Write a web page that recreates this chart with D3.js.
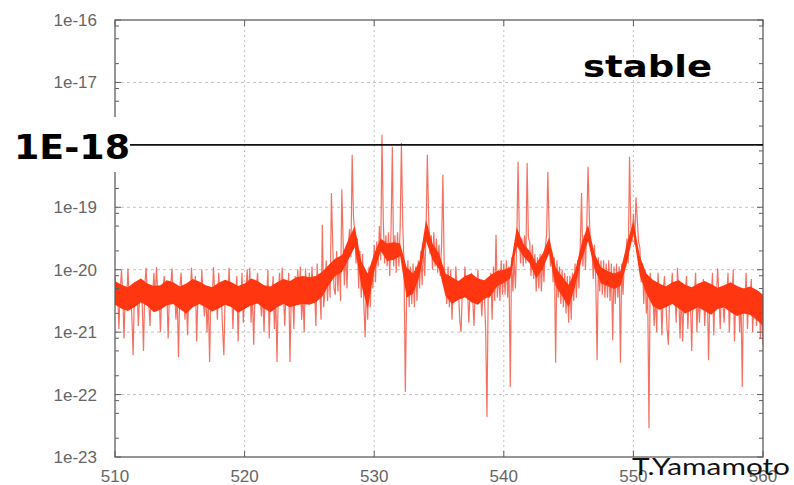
<!DOCTYPE html>
<html>
<head>
<meta charset="utf-8">
<script src="https://cdn.jsdelivr.net/npm/d3@7/dist/d3.min.js"></script>
<style>
  html, body { margin: 0; padding: 0; background: #fff; }
  svg { display: block; }
</style>
</head>
<body>
<svg id="chart" width="794" height="485"></svg>
<script>
// ---------- data ----------
const xStart = 510;
const xEnd = 560;
const xStep = 0.1;      // spectrum sampling
const bandStep = 0.5;   // sampling of the dense core band
// log10 of the spectrum value, one row per unit of x (x.0 ... x.9)
const logValues = [
  -20.1,-20.45,-20.3,-20.95,-20.35,-20.0,-20.4,-21.1,-20.3,-20.5,    // 510
  -19.98,-20.5,-20.35,-20.75,-21.37,-20.3,-20.45,-20.25,-20.9,-20.4, // 511
  -20.3,-20.55,-21.3,-20.25,-19.97,-20.4,-20.5,-20.9,-20.35,-20.45,  // 512
  -20.05,-20.5,-19.96,-20.4,-20.3,-21.0,-20.45,-20.3,-20.1,-20.55,   // 513
  -20.35,-21.1,-20.4,-20.25,-19.98,-20.5,-20.3,-20.8,-20.45,-21.4,   // 514
  -20.3,-20.05,-20.5,-20.35,-20.8,-20.4,-21.05,-20.3,-20.45,-19.97,  // 515
  -20.35,-20.5,-20.1,-21.15,-20.4,-20.3,-20.55,-20.0,-20.45,-20.75,  // 516
  -20.3,-21.0,-20.45,-21.48,-20.35,-20.5,-19.96,-20.4,-20.3,-20.8,   // 517
  -20.05,-20.5,-20.35,-20.95,-21.37,-20.4,-20.3,-20.55,-19.97,-20.45,// 518
  -20.35,-20.95,-20.3,-20.45,-20.1,-21.15,-20.4,-20.5,-20.05,-20.85, // 519
  -20.4,-20.3,-20.0,-20.5,-19.97,-20.85,-20.35,-21.2,-20.4,-20.3,    // 520
  -20.05,-20.5,-20.4,-20.75,-20.35,-21.0,-20.3,-20.45,-20.0,-21.1,   // 521
  -20.3,-20.45,-20.1,-20.95,-20.4,-21.48,-20.35,-20.05,-20.5,-19.97, // 522
  -20.4,-20.9,-20.3,-20.5,-20.05,-21.48,-20.4,-20.3,-20.95,-20.1,    // 523
  -20.35,-20.0,-20.5,-19.95,-20.8,-20.4,-21.0,-19.98,-20.45,-20.3,   // 524
  -20.05,-20.5,-19.95,-20.4,-20.3,-20.9,-19.9,-20.45,-20.3,-20.8,    // 525
  -19.28,-20.6,-20.35,-19.85,-20.5,-19.95,-20.45,-18.77,-19.6,-20.3, // 526
  -20.4,-19.7,-20.35,-19.8,-20.5,-18.71,-19.55,-20.25,-19.65,-20.3,  // 527
  -19.6,-19.35,-19.8,-18.16,-19.15,-19.4,-19.9,-19.5,-20.3,-19.7,    // 528
  -20.45,-19.75,-20.55,-21.08,-20.2,-20.8,-19.95,-20.6,-19.9,-20.3,  // 529
  -19.6,-20.2,-19.55,-19.95,-19.3,-19.85,-17.84,-19.2,-19.9,-19.45,  // 530
  -19.95,-19.4,-20.1,-19.35,-18.03,-19.95,-19.45,-20.05,-19.4,-19.95,// 531
  -19.35,-17.97,-19.25,-19.9,-21.96,-20.45,-19.85,-20.6,-19.95,-20.55,// 532
  -19.9,-20.6,-19.95,-20.5,-19.85,-20.3,-19.7,-20.25,-19.6,-20.1,    // 533
  -19.4,-18.16,-19.15,-19.75,-19.45,-20.0,-19.4,-19.95,-19.5,-20.05, // 534
  -19.6,-20.1,-19.6,-18.48,-19.95,-20.2,-20.55,-19.95,-20.6,-20.0,   // 535
  -20.8,-20.3,-20.45,-19.95,-20.4,-20.3,-20.8,-21.0,-20.35,-20.45,   // 536
  -19.95,-20.4,-20.3,-20.85,-20.35,-20.05,-20.45,-20.9,-20.3,-20.4,  // 537
  -20.0,-20.45,-20.3,-20.75,-20.35,-20.4,-20.95,-22.36,-20.3,-20.45, // 538
  -20.05,-20.8,-19.95,-20.5,-19.44,-20.45,-20.0,-20.5,-19.85,-20.4,  // 539
  -19.9,-20.4,-19.85,-20.45,-19.95,-21.88,-19.8,-20.35,-19.8,-20.3,  // 540
  -19.55,-18.27,-19.45,-19.9,-19.5,-19.95,-19.45,-19.9,-18.29,-19.5, // 541
  -19.55,-20.1,-19.6,-20.15,-19.75,-20.35,-19.8,-20.3,-19.75,-20.35, // 542
  -19.8,-20.2,-19.65,-19.45,-18.43,-19.4,-19.95,-19.7,-20.2,-19.8,   // 543
  -21.49,-19.85,-20.45,-19.95,-20.55,-20.0,-20.6,-20.05,-20.7,-20.1, // 544
  -20.85,-20.1,-20.8,-20.05,-20.5,-19.9,-20.45,-19.85,-20.3,-19.6,   // 545
  -18.77,-19.95,-19.45,-20.0,-19.3,-18.35,-19.15,-19.7,-19.6,-20.15, // 546
  -19.6,-20.2,-21.45,-19.8,-20.35,-19.85,-20.4,-19.85,-20.45,-19.9,  // 547
  -20.45,-19.85,-20.5,-19.9,-21.13,-19.95,-20.55,-19.9,-20.45,-19.95,// 548
  -21.49,-19.9,-20.4,-19.85,-19.95,-19.5,-19.9,-18.19,-19.3,-19.55,  // 549
  -19.1,-19.6,-18.84,-19.2,-19.55,-19.65,-20.2,-19.9,-20.55,-20.0,   // 550
  -20.7,-20.3,-22.54,-20.05,-20.45,-20.3,-20.9,-20.4,-21.0,-20.05,   // 551
  -20.45,-20.3,-21.05,-20.35,-20.1,-20.5,-20.95,-21.2,-20.35,-20.45, // 552
  -20.05,-20.5,-20.35,-20.85,-19.97,-20.4,-21.1,-20.3,-21.15,-20.45, // 553
  -20.35,-20.1,-20.95,-20.4,-20.5,-21.3,-20.35,-20.45,-20.05,-21.0,  // 554
  -20.4,-20.85,-20.3,-20.45,-20.15,-20.9,-20.5,-20.35,-21.45,-20.4,  // 555
  -20.5,-20.05,-21.05,-20.35,-20.45,-19.98,-20.4,-20.95,-20.3,-20.5, // 556
  -20.85,-20.35,-20.45,-20.05,-21.0,-20.4,-20.5,-20.0,-21.15,-20.4,  // 557
  -20.5,-20.35,-21.0,-20.4,-21.88,-20.3,-20.55,-20.05,-20.95,-20.45, // 558
  -20.4,-20.15,-21.0,-20.5,-20.4,-20.9,-20.5,-20.35,-21.1,-20.6,     // 559
  -21.2                                                               // 560
];
// dense core band (log10), every 0.5 in x, rows of 10 = 5 units of x
const coreTop = [
  -20.18,-20.24,-20.28,-20.2,-20.14,-20.22,-20.26,-20.25,-20.17,-20.2,   // 510-514.5
  -20.27,-20.22,-20.15,-20.19,-20.25,-20.28,-20.21,-20.16,-20.2,-20.26,  // 515-519.5
  -20.22,-20.14,-20.18,-20.25,-20.27,-20.2,-20.15,-20.18,-20.12,-20.1,   // 520-524.5
  -20.12,-20.1,-20.03,-19.92,-19.82,-19.77,-19.52,-19.3,-19.86,-20.06,   // 525-529.5
  -19.74,-19.5,-19.58,-19.56,-19.58,-19.96,-20.06,-19.86,-19.2,-19.58,   // 530-534.5
  -19.74,-20.06,-20.12,-20.18,-20.1,-20.06,-20.14,-20.17,-20.08,-20.02,  // 535-539.5
  -20.0,-19.96,-19.32,-19.58,-19.7,-19.9,-19.74,-19.48,-19.96,-20.11,    // 540-544.5
  -20.24,-20.02,-19.58,-19.28,-19.74,-19.96,-20.02,-20.06,-20.02,-19.58, // 545-549.5
  -19.22,-19.79,-20.06,-20.16,-20.22,-20.27,-20.2,-20.17,-20.24,-20.28,  // 550-554.5
  -20.22,-20.18,-20.23,-20.29,-20.25,-20.2,-20.26,-20.3,-20.27,-20.32,   // 555-559.5
  -20.4                                                                  // 560
];
const coreBottom = [
  -20.56,-20.62,-20.66,-20.6,-20.52,-20.58,-20.68,-20.64,-20.57,-20.55,  // 510-514.5
  -20.63,-20.7,-20.6,-20.55,-20.6,-20.67,-20.62,-20.56,-20.6,-20.69,     // 515-519.5
  -20.63,-20.57,-20.54,-20.62,-20.68,-20.6,-20.55,-20.6,-20.57,-20.55,   // 520-524.5
  -20.56,-20.52,-20.43,-20.24,-20.1,-20.04,-19.84,-19.64,-20.24,-20.62,  // 525-529.5
  -20.02,-19.7,-19.86,-19.84,-19.78,-20.45,-20.38,-20.1,-19.54,-19.84,   // 530-534.5
  -19.99,-20.42,-20.55,-20.48,-20.44,-20.52,-20.56,-20.47,-20.42,-20.26, // 535-539.5
  -20.21,-20.14,-19.62,-19.78,-19.9,-20.14,-19.99,-19.74,-20.26,-20.42,  // 540-544.5
  -20.6,-20.26,-19.84,-19.54,-19.99,-20.22,-20.26,-20.31,-20.26,-19.9,   // 545-549.5
  -19.42,-20.1,-20.38,-20.58,-20.64,-20.6,-20.55,-20.62,-20.7,-20.65,    // 550-554.5
  -20.6,-20.66,-20.72,-20.63,-20.6,-20.68,-20.74,-20.7,-20.72,-20.8,     // 555-559.5
  -20.9                                                                  // 560
];
const xTickValues = [510, 520, 530, 540, 550, 560];
const xTickLabels = ["510", "520", "530", "540", "550", "560"];
const yTickValues = [1e-23, 1e-22, 1e-21, 1e-20, 1e-19, 1e-18, 1e-17, 1e-16];
const yTickLabels = ["1e-23", "1e-22", "1e-21", "1e-20", "1e-19", "1e-18", "1e-17", "1e-16"];
const yMinorMultipliers = [2, 5, 8];
const thresholdValue = 1e-18;
const thresholdLabel = "1E-18";
const titleText = "stable";
const authorText = "T.Yamamoto";

// ---------- layout ----------
const L = 115, R = 763, T = 20, B = 457;
const svg = d3.select("#chart");
const x = d3.scaleLinear().domain([xStart, xEnd]).range([L, R]);
const y = d3.scaleLog().domain([1e-23, 1e-16]).range([B, T]);

const points = logValues.map((v, i) => ({ x: xStart + i * xStep, v: Math.pow(10, v) }));
const band = coreTop.map((t, i) => ({ x: xStart + i * bandStep, hi: Math.pow(10, t), lo: Math.pow(10, coreBottom[i]) }));

// grid
const grid = svg.append("g");
grid.selectAll("line.h").data(yTickValues.slice(1, -1)).join("line")
  .attr("x1", L).attr("x2", R)
  .attr("y1", d => y(d)).attr("y2", d => y(d))
  .attr("stroke", "#c2c2c2").attr("stroke-width", 1).attr("stroke-dasharray", "3,3");
grid.selectAll("line.v").data(xTickValues.slice(1, -1)).join("line")
  .attr("y1", T).attr("y2", B)
  .attr("x1", d => x(d)).attr("x2", d => x(d))
  .attr("stroke", "#c2c2c2").attr("stroke-width", 1).attr("stroke-dasharray", "2,3");

// data
svg.append("defs").append("clipPath").attr("id", "clip")
  .append("rect").attr("x", L).attr("y", T).attr("width", R - L).attr("height", B - T);
const plot = svg.append("g").attr("clip-path", "url(#clip)");
const line = d3.line().x(d => x(d.x)).y(d => y(d.v));
plot.append("path").datum(points)
  .attr("d", line)
  .attr("fill", "none")
  .attr("stroke", "#f0402c")
  .attr("stroke-opacity", 0.75)
  .attr("stroke-width", 1.2);
const area = d3.area().x(d => x(d.x)).y0(d => y(d.lo)).y1(d => y(d.hi));
plot.append("path").datum(band)
  .attr("d", area)
  .attr("fill", "#ff3610");

// frame
const axisColor = "#5f5f5f";
svg.append("rect").attr("x", L).attr("y", T).attr("width", R - L).attr("height", B - T)
  .attr("fill", "none").attr("stroke", axisColor).attr("stroke-width", 1.3);

// minor + major ticks (inward) on all sides
const minorVals = [];
yTickValues.slice(0, -1).forEach(d => yMinorMultipliers.forEach(m => minorVals.push(d * m)));
const ticks = svg.append("g").attr("stroke", axisColor).attr("stroke-width", 1);
[[L, 1], [R, -1]].forEach(([x0, dir]) => {
  ticks.append("g").selectAll("line").data(yTickValues).join("line")
    .attr("x1", x0).attr("x2", x0 + dir * 6)
    .attr("y1", d => y(d)).attr("y2", d => y(d));
  ticks.append("g").selectAll("line").data(minorVals).join("line")
    .attr("x1", x0).attr("x2", x0 + dir * 4)
    .attr("y1", d => y(d)).attr("y2", d => y(d));
});
[[B, -1], [T, 1]].forEach(([y0, dir]) => {
  ticks.append("g").selectAll("line").data(xTickValues).join("line")
    .attr("y1", y0).attr("y2", y0 + dir * 6)
    .attr("x1", d => x(d)).attr("x2", d => x(d));
});

// tick labels (the 1e-18 label is covered by the big threshold label in the reference)
const yLabelData = yTickValues.map((v, i) => ({ v, t: yTickLabels[i] })).filter(d => d.v !== thresholdValue);
svg.append("g").selectAll("text").data(yLabelData).join("text")
  .attr("x", 97).attr("y", d => y(d.v)).attr("dy", "0.35em")
  .attr("text-anchor", "end")
  .attr("font-family", "'Liberation Sans', Arial, sans-serif")
  .attr("font-size", 17).attr("fill", "#666")
  .text(d => d.t);
svg.append("g").selectAll("text").data(xTickValues).join("text")
  .attr("x", d => x(d)).attr("y", 482)
  .attr("text-anchor", "middle")
  .attr("font-family", "'Liberation Sans', Arial, sans-serif")
  .attr("font-size", 17).attr("fill", "#666")
  .text((d, i) => xTickLabels[i]);

// threshold line + label
svg.append("rect").attr("x", 0).attr("y", 117).attr("width", 130).attr("height", 55).attr("fill", "#fff");
svg.append("line")
  .attr("x1", 130).attr("x2", R)
  .attr("y1", y(thresholdValue)).attr("y2", y(thresholdValue))
  .attr("stroke", "#111").attr("stroke-width", 1.6);
svg.append("text")
  .attr("x", 14).attr("y", y(thresholdValue) + 14)
  .attr("font-family", "'DejaVu Sans', sans-serif").attr("font-weight", "bold")
  .attr("font-size", 33).attr("fill", "#000")
  .attr("textLength", 116).attr("lengthAdjust", "spacingAndGlyphs")
  .text(thresholdLabel);

// title "stable"
svg.append("text")
  .attr("x", 583).attr("y", 77)
  .attr("font-family", "'DejaVu Sans', sans-serif").attr("font-weight", "bold")
  .attr("font-size", 31).attr("fill", "#000")
  .attr("textLength", 129).attr("lengthAdjust", "spacingAndGlyphs")
  .text(titleText);

// author
svg.append("text")
  .attr("x", 632).attr("y", 475)
  .attr("font-family", "Lato, 'Open Sans', sans-serif")
  .attr("font-size", 23).attr("fill", "#111")
  .attr("textLength", 158).attr("lengthAdjust", "spacingAndGlyphs")
  .text(authorText);
</script>
</body>
</html>
